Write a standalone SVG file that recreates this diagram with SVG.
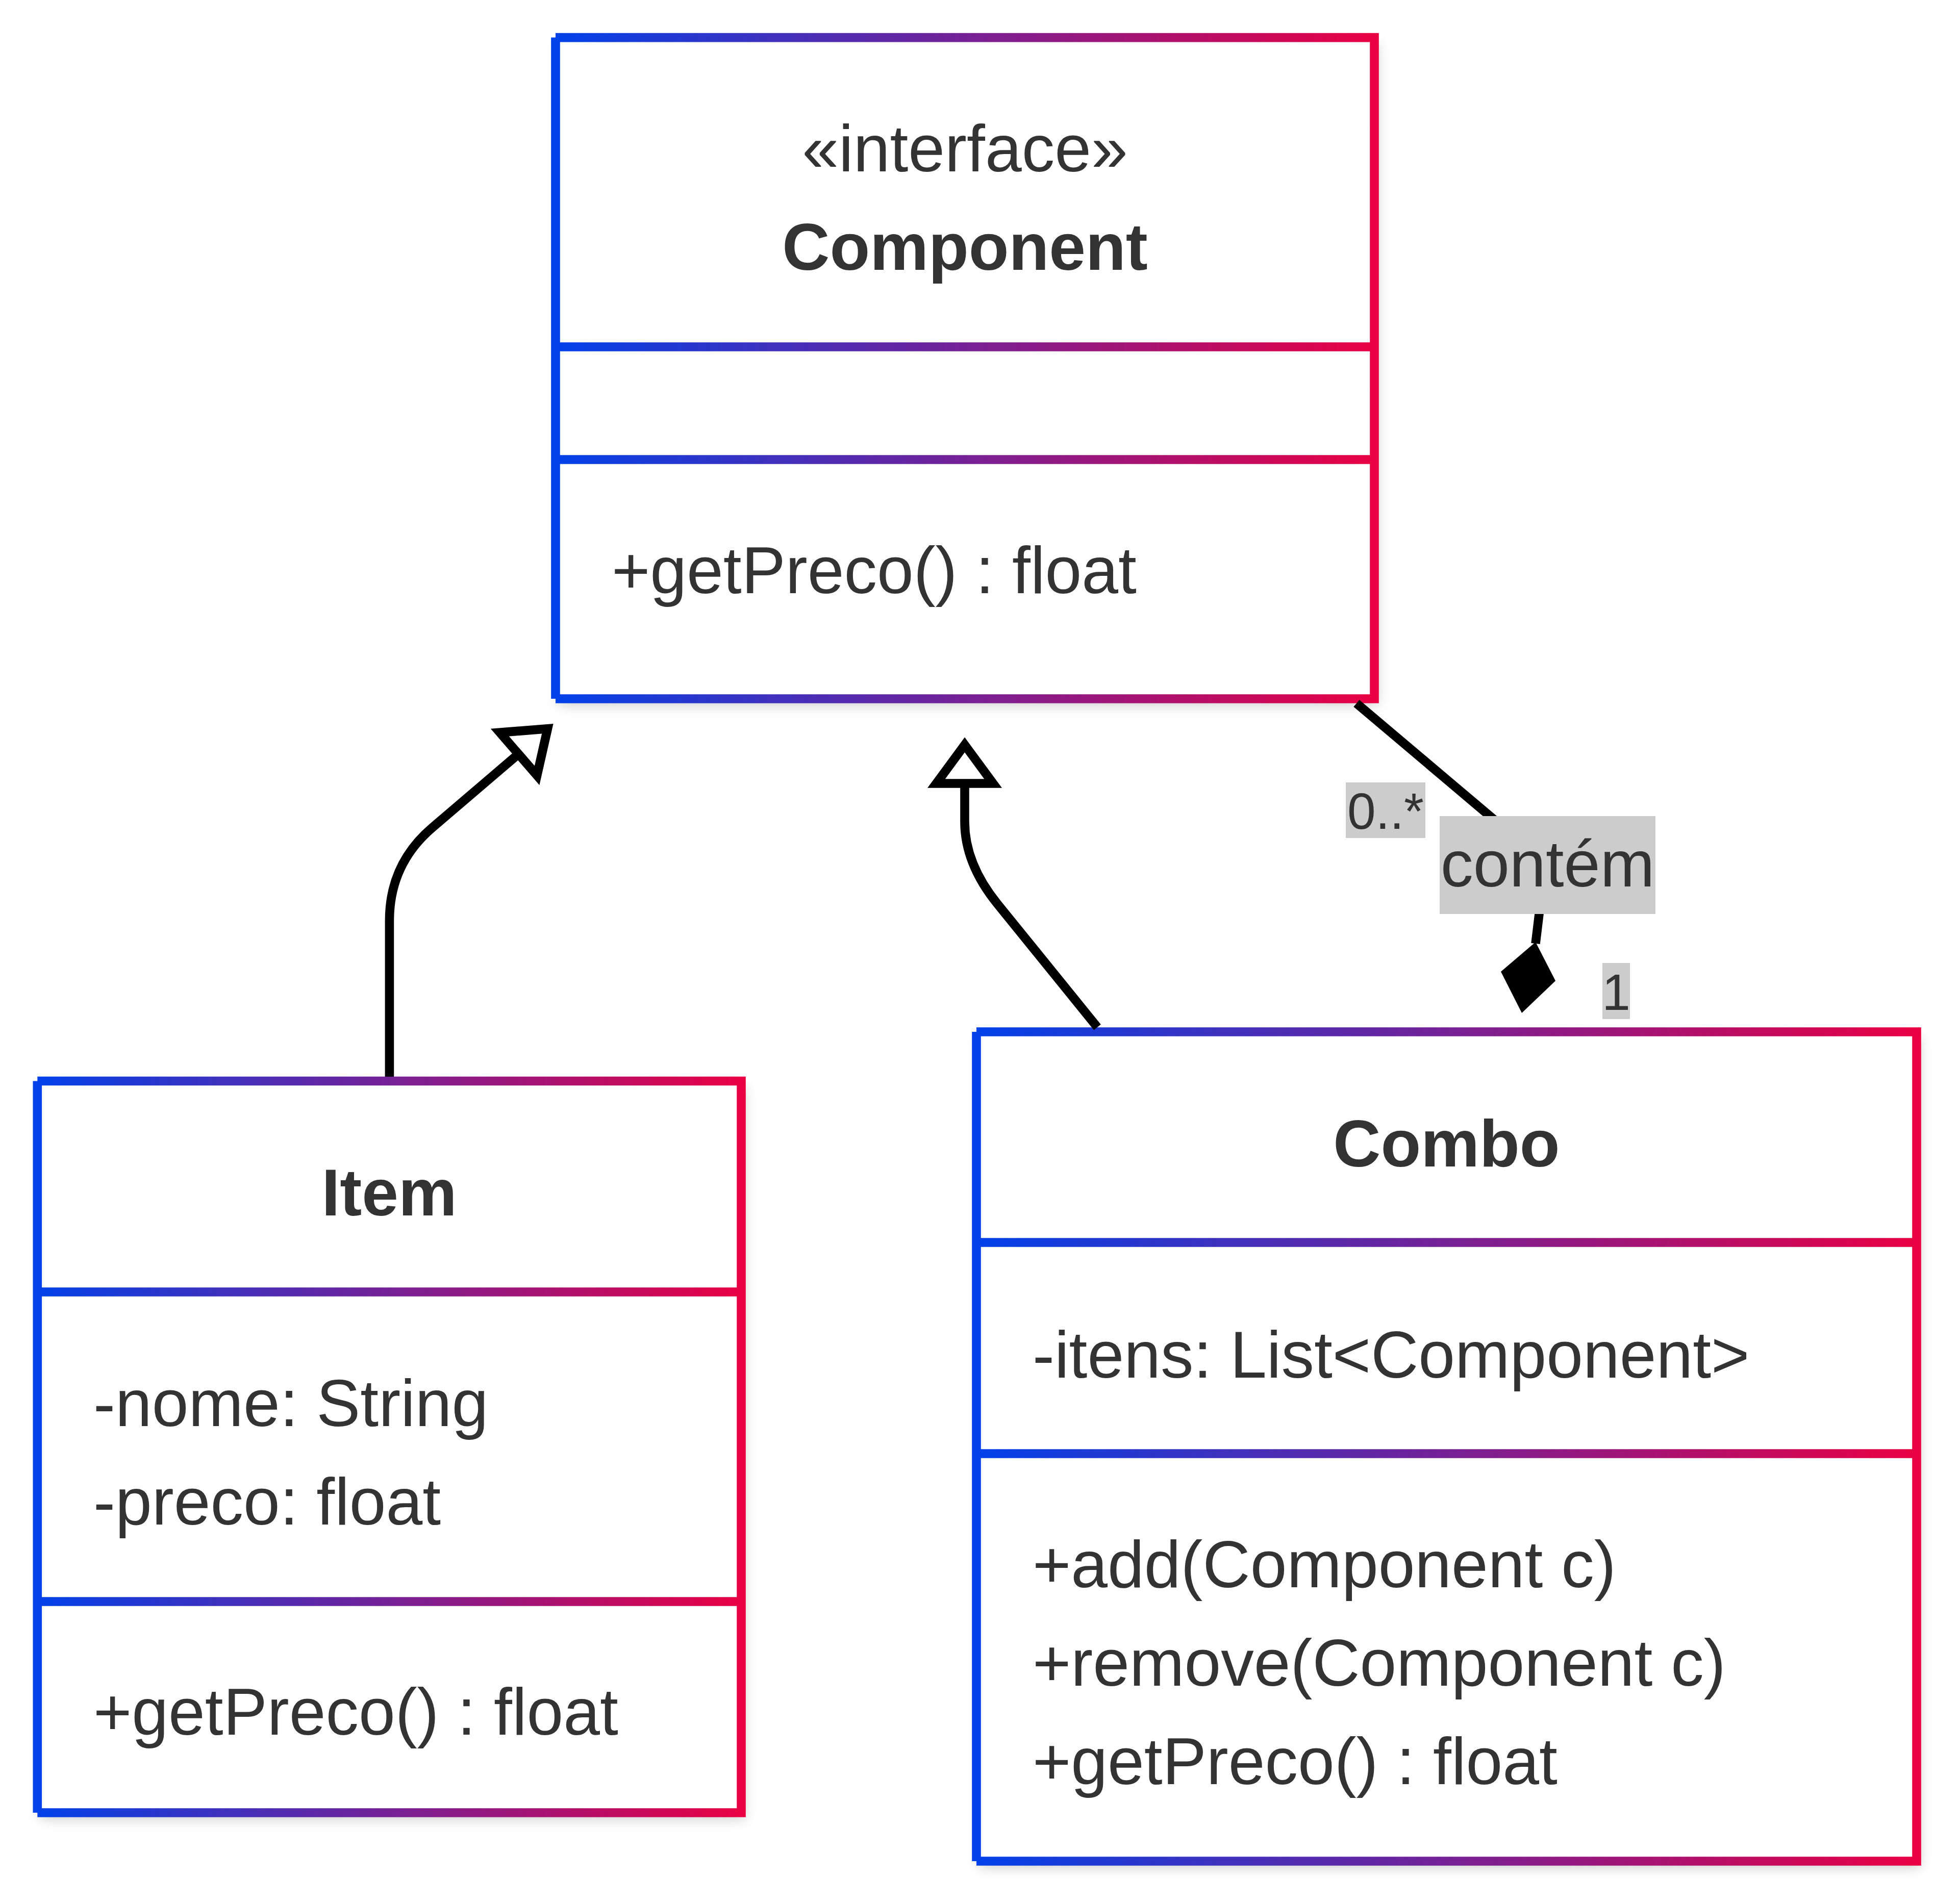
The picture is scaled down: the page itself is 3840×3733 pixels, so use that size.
<svg xmlns="http://www.w3.org/2000/svg" xmlns:xlink="http://www.w3.org/1999/xlink" width="3840" height="3733" viewBox="0 0 3840 3733">
<style>
.bg{fill:#ffffff;filter:url(#shadow);}
.outline{fill:none;stroke-width:17.6;stroke-linecap:butt;stroke-linejoin:miter;}
.t{font-family:"Liberation Sans",Arial,Helvetica,sans-serif;font-size:129px;fill:#333333;}
.title{font-weight:bold;text-anchor:middle;}
.mid{text-anchor:middle;}
.edge{fill:none;stroke:#000000;stroke-width:17.6;}
.lblbg{fill:#cccccc;}
.lbl{font-family:"Liberation Sans",Arial,Helvetica,sans-serif;fill:#333333;text-anchor:middle;}
</style>
<defs>
<filter id="shadow" x="-10%" y="-10%" width="120%" height="120%">
<feDropShadow dx="6" dy="12" stdDeviation="12" flood-color="#000000" flood-opacity="0.2"/>
</filter>
<linearGradient id="gComp" gradientUnits="userSpaceOnUse" x1="1080" y1="0" x2="2703" y2="0">
<stop offset="0" stop-color="#0042ea"/><stop offset="1" stop-color="#ea0042"/>
</linearGradient>
<linearGradient id="gItem" gradientUnits="userSpaceOnUse" x1="64" y1="0" x2="1462" y2="0">
<stop offset="0" stop-color="#0042ea"/><stop offset="1" stop-color="#ea0042"/>
</linearGradient>
<linearGradient id="gCombo" gradientUnits="userSpaceOnUse" x1="1905" y1="0" x2="3766" y2="0">
<stop offset="0" stop-color="#0042ea"/><stop offset="1" stop-color="#ea0042"/>
</linearGradient>
<path id="ext" d="M 0 13.4 L 55.6 89 L -55.6 89 Z" fill="#ffffff" stroke="#000000" stroke-width="17.6" stroke-linejoin="miter"/>
</defs>
<rect x="0" y="0" width="3840" height="3733" fill="#ffffff"/>

<g id="node-Component">
<rect class="bg" x="1089" y="73.6" width="1605" height="1296.4"/>
<path class="outline" stroke="url(#gComp)" d="M 1089 73.6 H 2694 V 1370 H 1089 M 1089 73.6 V 1370 M 1089 680 H 2694 M 1089 901 H 2694"/>
<text class="t mid" x="1891.5" y="336">«interface»</text>
<text class="t title" x="1891.5" y="529">Component</text>
<text class="t" x="1199" y="1163">+getPreco() : float</text>
</g>

<g id="node-Item">
<rect class="bg" x="73.3" y="2119.5" width="1379.7" height="1434.5"/>
<path class="outline" stroke="url(#gItem)" d="M 73.3 2119.5 H 1453 V 3554 H 73.3 M 73.3 2119.5 V 3554 M 73.3 2533 H 1453 M 73.3 3140 H 1453"/>
<text class="t title" x="763" y="2383">Item</text>
<text class="t" x="183" y="2796">-nome: String</text>
<text class="t" x="183" y="2989">-preco: float</text>
<text class="t" x="183" y="3401">+getPreco() : float</text>
</g>

<g id="node-Combo">
<rect class="bg" x="1914" y="2023" width="1843" height="1626"/>
<path class="outline" stroke="url(#gCombo)" d="M 1914 2023 H 3757 V 3649 H 1914 M 1914 2023 V 3649 M 1914 2436 H 3757 M 1914 2850 H 3757"/>
<text class="t title" x="2835.5" y="2286.5">Combo</text>
<text class="t" x="2024" y="2701">-itens: List&lt;Component&gt;</text>
<text class="t" x="2024" y="3112">+add(Component c)</text>
<text class="t" x="2024" y="3305">+remove(Component c)</text>
<text class="t" x="2024" y="3498">+getPreco() : float</text>
</g>

<g id="connectors">
<g id="edge-Item-Component">
<path class="edge" d="M 763.4 2111 V 1805 Q 763.4 1694.5 847 1623 L 1012 1482"/>
<use xlink:href="#ext" href="#ext" transform="translate(1083.5 1420) rotate(49.1)"/>
</g>
<g id="edge-Combo-Component">
<path class="edge" d="M 2151 2014 L 1955 1772 Q 1891 1693 1891 1611 L 1891 1540"/>
<use xlink:href="#ext" href="#ext" transform="translate(1891 1447)"/>
</g>
<g id="edge-Combo-contem-Component">
<path class="edge" d="M 2659 1379 L 2950 1625 Q 3022 1690 3017 1792 L 3010 1850"/>
<polygon points="3010,1847 3049,1923 2983,1986 2942,1905" fill="#000000"/>
<rect class="lblbg" x="2638" y="1534" width="156" height="109"/>
<text class="lbl" x="2716" y="1625" font-size="100">0..*</text>
<rect class="lblbg" x="2822" y="1600" width="423" height="192"/>
<text class="lbl" x="3033.5" y="1738" font-size="128">contém</text>
<rect class="lblbg" x="3141" y="1888" width="54" height="110"/>
<text class="lbl" x="3168" y="1980" font-size="100">1</text>
</g>
</g>
</svg>
